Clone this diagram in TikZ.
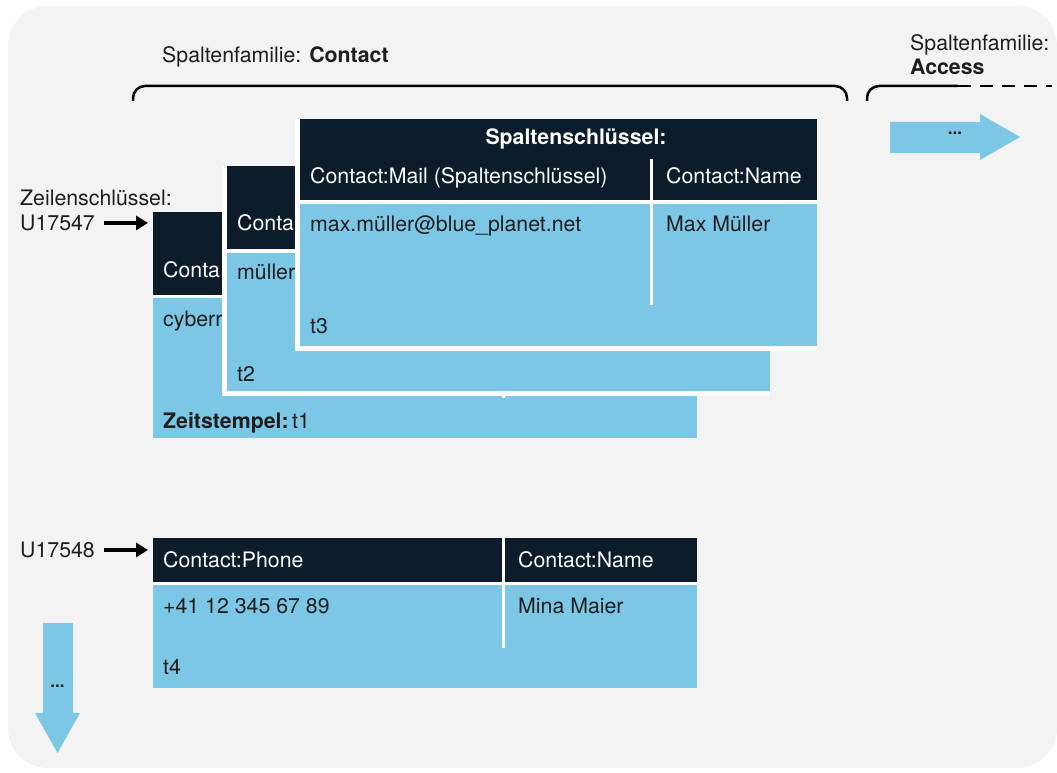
\documentclass[tikz,border=0pt]{standalone}
\usepackage{fontspec}
\setmainfont{TeX Gyre Heros}
\usetikzlibrary{arrows.meta}

\definecolor{cardnavy}{RGB}{12,28,42}
\definecolor{cardblue}{RGB}{125,199,230}
\definecolor{panelgrey}{RGB}{243,243,243}
\definecolor{inktext}{RGB}{30,30,30}

\begin{document}
\begin{tikzpicture}[x=1pt, y=-1pt, font=\fontsize{21.3}{25}\selectfont, text=inktext]
    \tikzstyle{frame}=[anchor=north west, fill=white, inner sep=0pt, outer sep=0pt]
    \tikzstyle{head}=[anchor=north west, fill=cardnavy, inner sep=0pt, outer sep=0pt]
    \tikzstyle{body}=[anchor=north west, fill=cardblue, inner sep=0pt, outer sep=0pt]
    \tikzstyle{divider}=[white, line width=3pt]
    \tikzstyle{cell}=[anchor=base west, inner sep=0pt]
    \tikzstyle{headcell}=[cell, text=white]
    \tikzstyle{rowarrow}=[-{Triangle[length=12pt,width=14pt]}, line width=3.5pt, black, shorten <=9pt, shorten >=5pt]
    \tikzstyle{brace}=[line width=2.5pt, black, rounded corners=12pt]
    \tikzstyle{more}=[fill=cardblue]
    \tikzstyle{dots}=[font=\fontsize{17}{17}\selectfont\bfseries]

    \useasboundingbox (0,0) rectangle (1057,773);
    \fill[panelgrey, rounded corners=40pt] (8,6) rectangle (1057,768);

    % Column families on top
    \node[cell] (famc) at (162,62.5) {Spaltenfamilie: \textbf{Contact}};
    \node[cell] (fama) at (910,50.5) {Spaltenfamilie:};
    \node[cell] (famb) at (910,74.5) {\textbf{Access}};
    \draw[brace] (133,101) -- (133,86) -- (847,86) -- (847,101);
    \draw[brace] (867,101) -- (867,86) -- (958,86);
    \draw[line width=2.5pt, dash pattern=on 13pt off 9pt] (958,86) -- (1052,86);

    % More column families
    \fill[more] (890,122) -- (980,122) -- (980,114) -- (1020,137) -- (980,160)
        -- (980,153) -- (890,153) -- cycle;
    \node[dots] (dotr) at (955,133) {...};

    % Row key U17547, version t1
    \node[frame, minimum width=544pt, minimum height=226pt] (f1) at (153,212) {};
    \node[head, minimum width=544pt, minimum height=83pt] (h1) at (153,212) {};
    \node[body, minimum width=544pt, minimum height=140pt] (b1) at (153,298) {};
    \draw[divider] (503,252) -- (503,398);
    \node[headcell] (m1) at (163,277.5) {Conta};
    \node[cell] (v1) at (163,326.5) {cyberr};
    \node[cell] (t1) at (163,428.5) {\textbf{Zeitstempel:}\,t1};

    % version t2
    \node[frame, minimum width=548pt, minimum height=230pt] (f2) at (222,166) {};
    \node[head, minimum width=543pt, minimum height=83pt] (h2) at (227,166) {};
    \node[body, minimum width=543pt, minimum height=138pt] (b2) at (227,253) {};
    \draw[divider] (579,206) -- (579,351);
    \node[headcell] (m2) at (237,230.5) {Conta};
    \node[cell] (v2) at (237,279.5) {müller};
    \node[cell] (t2) at (237,381.5) {t2};

    % version t3
    \node[frame, minimum width=522pt, minimum height=232pt] (f3) at (295,119) {};
    \node[head, minimum width=517pt, minimum height=81pt] (h3) at (300,119) {};
    \node[body, minimum width=517pt, minimum height=142pt] (b3) at (300,204) {};
    \draw[divider] (651,159) -- (651,305);
    \node[headcell, anchor=base] (k3) at (576,144.5) {\textbf{Spaltenschlüssel:}};
    \node[headcell] (m3) at (310,183.5) {Contact:Mail (Spaltenschlüssel)};
    \node[headcell] (n3) at (666,183.5) {Contact:Name};
    \node[cell] (v3) at (310,231.5) {max.müller@blue\_planet.net};
    \node[cell] (w3) at (666,231.5) {Max Müller};
    \node[cell] (t3) at (310,333.5) {t3};

    % Row key U17548
    \node[frame, minimum width=544pt, minimum height=150pt] (f4) at (153,538) {};
    \node[head, minimum width=544pt, minimum height=44pt] (h4) at (153,538) {};
    \node[body, minimum width=544pt, minimum height=103pt] (b4) at (153,585) {};
    \draw[divider] (503,538) -- (503,648);
    \node[headcell] (m4) at (163,567.5) {Contact:Phone};
    \node[headcell] (n4) at (518,567.5) {Contact:Name};
    \node[cell] (v4) at (163,613.5) {+41 12 345 67 89};
    \node[cell] (w4) at (518,613.5) {Mina Maier};
    \node[cell] (t4) at (163,674.5) {t4};

    % Row keys
    \node[cell] (zk) at (20,205.5) {Zeilenschlüssel:};
    \node[cell] (u1) at (20,230.5) {U17547};
    \node[cell] (u2) at (20,557.5) {U17548};
    \draw[rowarrow] (u1.east) -- (u1.east -| h1.west);
    \draw[rowarrow] (u2.east) -- (u2.east -| h4.west);

    % More rows
    \fill[more] (43,623) -- (73,623) -- (73,713) -- (80,713) -- (57.5,753)
        -- (35,713) -- (43,713) -- cycle;
    \node[dots] (dotd) at (57.5,686) {...};
\end{tikzpicture}
\end{document}
